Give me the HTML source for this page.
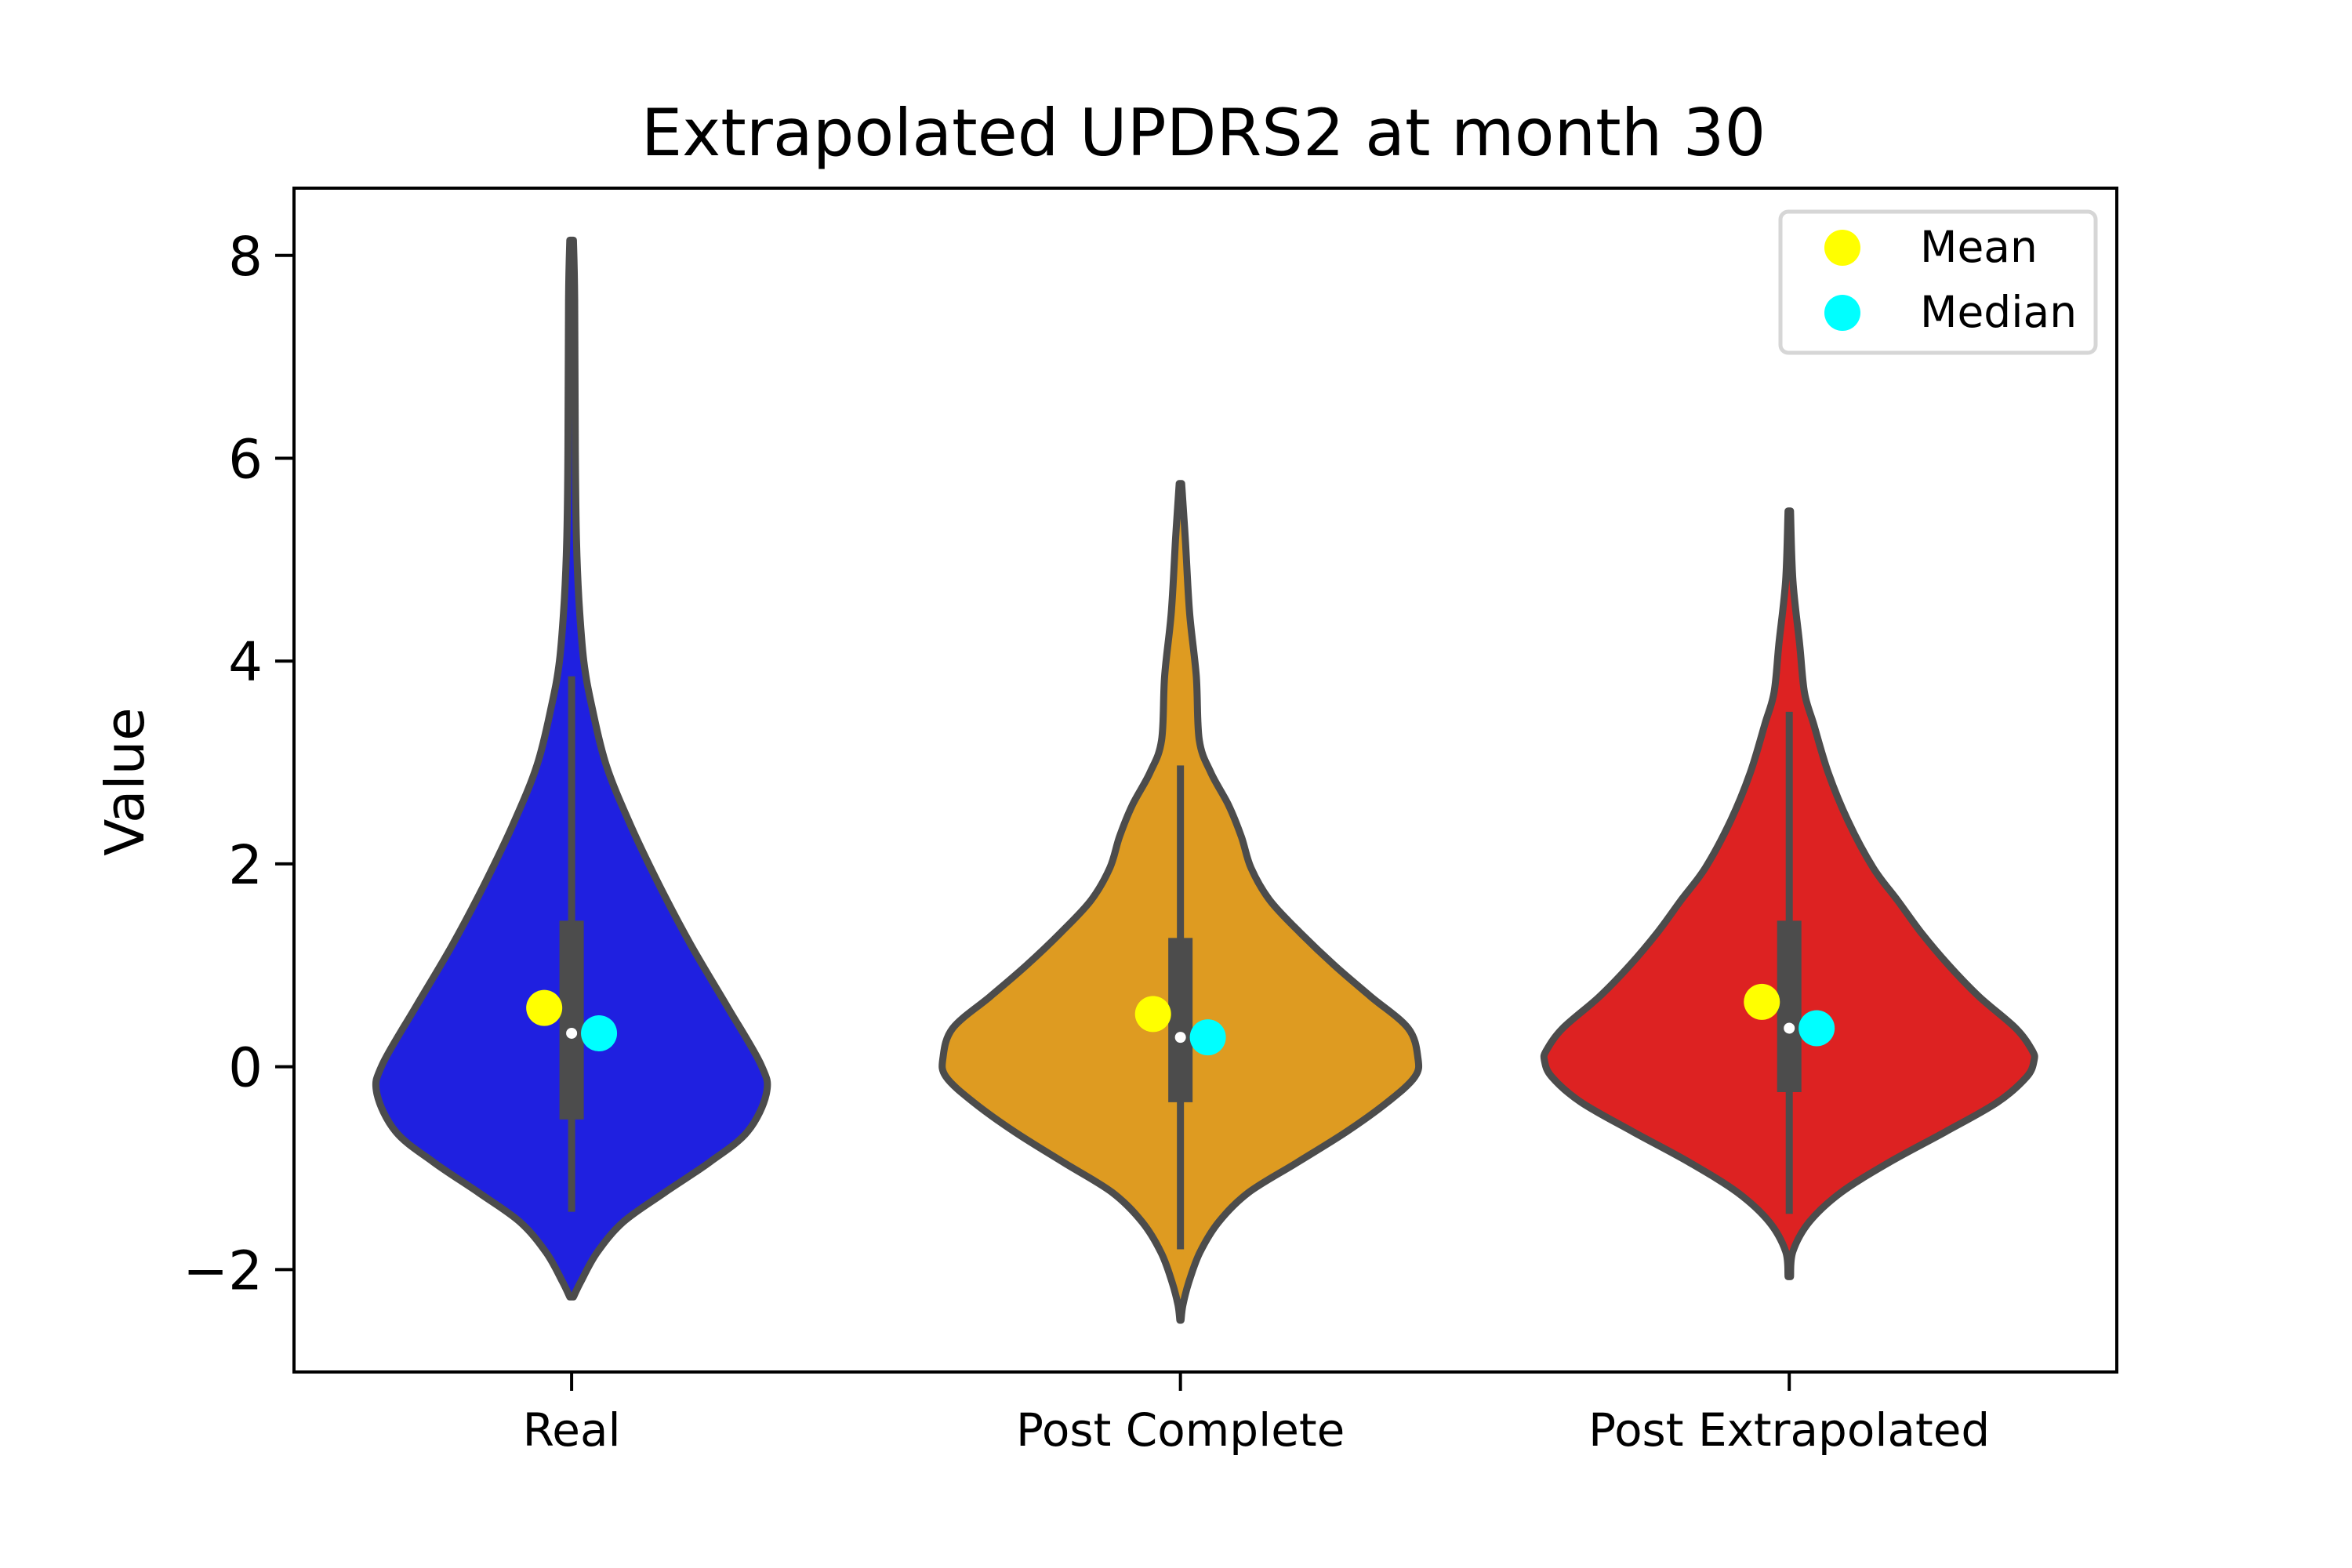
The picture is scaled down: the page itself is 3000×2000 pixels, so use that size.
<!DOCTYPE html>
<html><head><meta charset="utf-8">
<style>
html,body{margin:0;padding:0;background:#fff;}
svg{display:block;}
text{font-family:"DejaVu Sans","Liberation Sans",sans-serif;}
</style></head>
<body>
<svg id="chart" width="3000" height="2000" viewBox="0 0 3000 2000" xmlns="http://www.w3.org/2000/svg">
<rect x="0" y="0" width="3000" height="2000" fill="#fff"/>
<text x="1535" y="198" font-size="83" text-anchor="middle">Extrapolated UPDRS2 at month 30</text>
<g id="plot"></g>
<rect x="375" y="240" width="2325" height="1510" fill="none" stroke="#000" stroke-width="4"/>
<g id="axes"></g>
<text x="0" y="0" font-size="69" text-anchor="middle" transform="translate(183,997) rotate(-90)">Value</text>
<g>
  <rect x="2271" y="270" width="402" height="180" rx="10" fill="#fff" fill-opacity="0.8" stroke="#d6d6d6" stroke-width="5"/>
  <g>
    <circle cx="2350" cy="316" r="23" fill="#ffff00"/>
    <text x="2449" y="334" font-size="55">Mean</text>
  </g>
  <g>
    <circle cx="2350" cy="399" r="23" fill="#00ffff"/>
    <text x="2449" y="417" font-size="55">Median</text>
  </g>
</g>
</svg>
<script>
const categories = ["Real", "Post Complete", "Post Extrapolated"];
const colors = ["#1f20e0", "#de9b21", "#dd2222"];
// density outlines: values (y) and half-widths (category units)
const realY  = [8.15,7.56,6.07,5.19,4.6,4.0,3.56,2.97,2.38,1.79,1.2,0.6,0.02,-0.26,-0.64,-0.94,-1.24,-1.53,-1.83,-2.12,-2.27];
const realW  = [0.003,0.005,0.006,0.008,0.012,0.02,0.033,0.057,0.097,0.144,0.196,0.255,0.311,0.32,0.289,0.227,0.153,0.085,0.042,0.015,0.003];
const compY  = [5.75,5.2,4.48,3.85,3.22,2.9,2.58,2.27,1.96,1.64,1.32,1.0,0.69,0.38,0.09,-0.1,-0.35,-0.64,-0.94,-1.24,-1.53,-1.83,-2.12,-2.35,-2.5];
const compW  = [0.002,0.008,0.015,0.026,0.031,0.05,0.079,0.1,0.116,0.147,0.197,0.253,0.313,0.374,0.39,0.385,0.34,0.273,0.193,0.112,0.063,0.032,0.014,0.004,0.001];
const extY   = [5.48,4.79,4.17,3.69,3.38,2.9,2.43,1.96,1.64,1.32,1.0,0.69,0.38,0.16,0.06,-0.1,-0.35,-0.64,-0.94,-1.24,-1.53,-1.82,-2.07];
const extW   = [0.002,0.006,0.017,0.025,0.04,0.064,0.096,0.138,0.178,0.217,0.262,0.312,0.372,0.399,0.402,0.39,0.342,0.257,0.165,0.085,0.033,0.006,0.002];
const q1 = [-0.52,-0.35,-0.25];
const q3 = [1.44,1.27,1.44];
const whiskLo = [-1.43,-1.8,-1.45];
const whiskHi = [3.85,2.97,3.5];
const medians = [0.33,0.29,0.38];
const means = [0.58,0.52,0.64];
const yTicks = [-2,0,2,4,6,8];
const yTickLabels = ["\u22122","0","2","4","6","8"];

const violinYs = [realY, compY, extY];
const violinWs = [realW, compW, extW];

const AX = {l:375, r:2700, t:240, b:1750};
const X0 = -0.456, X1 = 2.538, Y0 = -3.01, Y1 = 8.663;
function sx(v){ return AX.l + (v - X0)/(X1 - X0)*(AX.r-AX.l); }
function sy(v){ return AX.b - (v - Y0)/(Y1 - Y0)*(AX.b-AX.t); }
function sw(w){ return w/(X1-X0)*(AX.r-AX.l); }

const NS = "http://www.w3.org/2000/svg";
const plot = document.getElementById('plot');
const axes = document.getElementById('axes');
function mk(tag, attrs, parent){
  const e = document.createElementNS(NS, tag);
  for (const k in attrs) e.setAttribute(k, attrs[k]);
  parent.appendChild(e);
  return e;
}
function smoothPath(pts){
  let d = "M"+pts[0][0].toFixed(1)+","+pts[0][1].toFixed(1);
  const n = pts.length;
  for (let i=0;i<n-1;i++){
    const p0 = pts[Math.max(i-1,0)], p1=pts[i], p2=pts[i+1], p3=pts[Math.min(i+2,n-1)];
    const c1=[p1[0]+(p2[0]-p0[0])/6, p1[1]+(p2[1]-p0[1])/6];
    const c2=[p2[0]-(p3[0]-p1[0])/6, p2[1]-(p3[1]-p1[1])/6];
    d += "C"+c1[0].toFixed(1)+","+c1[1].toFixed(1)+" "+c2[0].toFixed(1)+","+c2[1].toFixed(1)+" "+p2[0].toFixed(1)+","+p2[1].toFixed(1);
  }
  return d;
}

categories.forEach((cat, i) => {
  const cx = sx(i);
  const ys = violinYs[i], ws = violinWs[i];
  const right = ys.map((y,k)=>[cx+sw(ws[k]), sy(y)]);
  const left = ys.map((y,k)=>[cx-sw(ws[k]), sy(y)]).reverse();
  const d = smoothPath(right) + " L" + smoothPath(left).slice(1) + " Z";
  const v = mk('path', {d:d, fill:colors[i], stroke:'#4c4c4c', 'stroke-width':9, 'stroke-linejoin':'round'}, plot);
  
  

  const wl = mk('line', {x1:cx, x2:cx, y1:sy(whiskLo[i]), y2:sy(whiskHi[i]), stroke:'#4c4c4c', 'stroke-width':9}, plot);
  
  

  const bx = mk('rect', {x:cx-15.5, y:sy(q3[i]), width:31, height:sy(q1[i])-sy(q3[i]), fill:'#4c4c4c'}, plot);
  
  

  const md = mk('circle', {cx:cx, cy:sy(medians[i]), r:7, fill:'#fff'}, plot);
  
  

  const mn = mk('circle', {cx:sx(i-0.045), cy:sy(means[i]), r:23, fill:'#ffff00'}, plot);
  
  

  const me = mk('circle', {cx:sx(i+0.045), cy:sy(medians[i]), r:23, fill:'#00ffff'}, plot);
  
  

  const tk = mk('line', {x1:cx, x2:cx, y1:AX.b, y2:AX.b+24, stroke:'#000', 'stroke-width':4}, axes);
  
  
  const tl = mk('text', {x:cx, y:1844, 'font-size':58, 'text-anchor':'middle'}, axes);
  tl.textContent = cat;
  
  
});

yTicks.forEach((t, i) => {
  const y = sy(t);
  const tk = mk('line', {x1:AX.l-24, x2:AX.l, y1:y, y2:y, stroke:'#000', 'stroke-width':4}, axes);
  
  
  const tl = mk('text', {x:AX.l-40, y:y+25, 'font-size':69, 'text-anchor':'end'}, axes);
  tl.textContent = yTickLabels[i];
  
  
});
</script>
</body></html>
